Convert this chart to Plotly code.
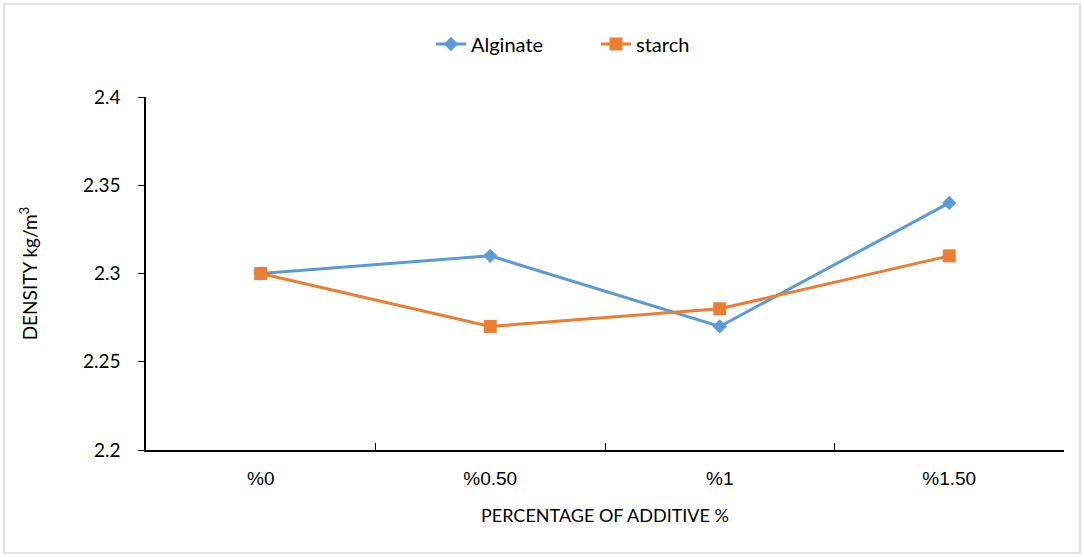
import plotly.graph_objects as go

categories = ["%0", "%0.50", "%1", "%1.50"]
alginate = [2.30, 2.31, 2.27, 2.34]
starch = [2.30, 2.27, 2.28, 2.31]
y_ticks = [2.2, 2.25, 2.3, 2.35, 2.4]
y_tick_labels = ["2.2", "2.25", "2.3", "2.35", "2.4"]

W, H = 1084, 557
L, R, T, B = 146, 20, 97, 107
pw, ph = W - L - R, H - T - B

fig = go.Figure()
fig.add_trace(go.Scatter(x=categories, y=alginate, name="Alginate", mode="lines+markers",
                         line=dict(color="#5B9BD5", width=3),
                         marker=dict(symbol="diamond", size=11, color="#5B9BD5")))
fig.add_trace(go.Scatter(x=categories, y=starch, name="starch", mode="lines+markers",
                         line=dict(color="#ED7D31", width=3),
                         marker=dict(symbol="square", size=13, color="#ED7D31")))

# outer border
fig.add_shape(type="rect", xref="paper", yref="paper",
              x0=(4 - L) / pw, x1=(W - 4 - L) / pw,
              y0=-(H - 4 - T - ph) / ph, y1=1 + (T - 4) / ph,
              line=dict(color="#D9D9D9", width=1.5), layer="below")

fig.update_layout(
    width=W, height=H,
    margin=dict(l=L, r=R, t=T, b=B),
    paper_bgcolor="white", plot_bgcolor="white",
    font=dict(family="Lato, Open Sans, sans-serif", size=18, color="#000000"),
    legend=dict(orientation="h", x=(596 - L) / pw, xanchor="center", y=1 + (T - 44) / ph,
                yanchor="middle", font=dict(size=20), entrywidth=120, entrywidthmode="pixels",
                tracegroupgap=0),
    xaxis=dict(type="category", tickson="boundaries", ticks="inside", ticklen=7,
               tickcolor="black", showline=True, linecolor="black", linewidth=1.5,
               showgrid=False, zeroline=False, range=[-0.5, 3.5], ticklabelstandoff=10,
               tickfont=dict(family="Liberation Sans, Arial", size=19),
               title=dict(text="PERCENTAGE OF ADDITIVE %", font=dict(size=18), standoff=22)),
    yaxis=dict(range=[2.2, 2.4], tickvals=y_ticks, ticktext=y_tick_labels,
               ticks="outside", ticklen=6, tickcolor="black",
               showline=True, linecolor="black", linewidth=1.5,
               showgrid=False, zeroline=False, ticklabelstandoff=14,
               tickfont=dict(size=19),
               title=dict(text="DENSITY kg/m<sup>3</sup>", font=dict(size=19), standoff=40)),
)

fig.write_html("out.html")
